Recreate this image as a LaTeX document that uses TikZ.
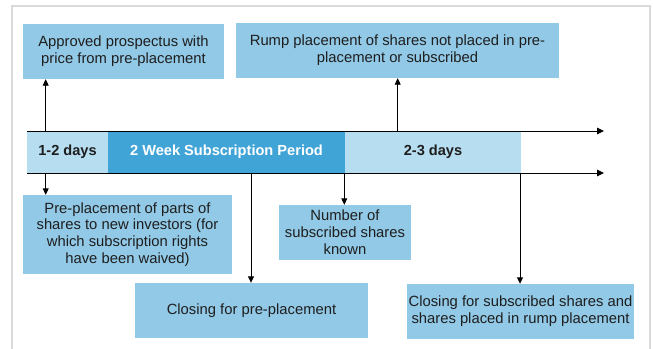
\documentclass[tikz,border=0pt]{standalone}
\usepackage{fontspec}
\setmainfont{Liberation Sans}
\usetikzlibrary{arrows.meta}
\definecolor{boxblue}{RGB}{146,201,230}
\definecolor{bandlight}{RGB}{182,221,240}
\definecolor{banddark}{RGB}{65,164,214}
\definecolor{txt}{RGB}{30,30,30}
\definecolor{framegray}{RGB}{218,218,218}
\tikzset{
  infobox/.style={fill=boxblue, inner sep=0pt, align=center, text=txt,
    font=\fontsize{14.8}{16.8}\selectfont},
  seg/.style={inner sep=0pt, minimum height=42pt, font=\fontsize{14.6}{16}\selectfont\bfseries},
  axis/.style={line width=0.9pt, -{Triangle[length=7pt,width=6.5pt]}},
  arr/.style={line width=0.9pt, -{Triangle[length=6.5pt,width=6pt]}}
}
\begin{document}
\begin{tikzpicture}[x=1pt,y=-1pt]
\useasboundingbox (0,0) rectangle (653,348);
% outer frame
\draw[framegray, line width=1.5pt] (12,350) -- (12,6) -- (650,6) -- (650,350);

% period band
\node[seg, fill=bandlight, text=txt, minimum width=81pt] (s1) at (67.5,152) {1-2 days};
\node[seg, fill=banddark, text=white, minimum width=237pt] (s2) at (226.5,152) {2 Week Subscription Period};
\node[seg, fill=bandlight, text=txt, minimum width=176pt] (s3) at (433,152) {2-3 days};

% timeline rails
\coordinate (ts) at (27,131);
\coordinate (te) at (604,131);
\coordinate (bs) at (27,173);
\coordinate (be) at (604,173);
\draw[axis] (ts) -- (te);
\draw[axis] (bs) -- (be);

% milestone boxes
\node[infobox, minimum width=201pt, minimum height=55pt] (b1) at (123.5,51.5)
  {Approved prospectus with\\price from pre-placement};
\node[infobox, minimum width=323pt, minimum height=55pt] (b2) at (397.5,50.5)
  {Rump placement of shares not placed in pre-\\placement or subscribed};
\node[infobox, minimum width=209pt, minimum height=79pt] (b3) at (127.5,234.5)
  {Pre-placement of parts of\\shares to new investors (for\\which subscription rights\\have been waived)};
\node[infobox, minimum width=233pt, minimum height=55pt] (b4) at (251.5,310.5)
  {Closing for pre-placement};
\node[infobox, minimum width=132pt, minimum height=55pt] (b5) at (345,232.5)
  {Number of\\subscribed shares\\known};
\node[infobox, minimum width=227pt, minimum height=55pt] (b6) at (520.5,311.5)
  {Closing for subscribed shares and\\shares placed in rump placement};

% connectors
\coordinate (u1) at (45.7,131);
\coordinate (u2) at (397.7,131);
\coordinate (d1) at (45.7,173);
\coordinate (d2) at (251,173);
\coordinate (d3) at (344.3,173);
\coordinate (d4) at (520,173);
\draw[arr] (u1) -- (u1 |- b1.south);
\draw[arr] (u2) -- (u2 |- b2.south);
\draw[arr] (d1) -- (d1 |- b3.north);
\draw[arr] (d2) -- (d2 |- b4.north);
\draw[arr] (d3) -- (d3 |- b5.north);
\draw[arr] (d4) -- (d4 |- b6.north);
\end{tikzpicture}
\end{document}
